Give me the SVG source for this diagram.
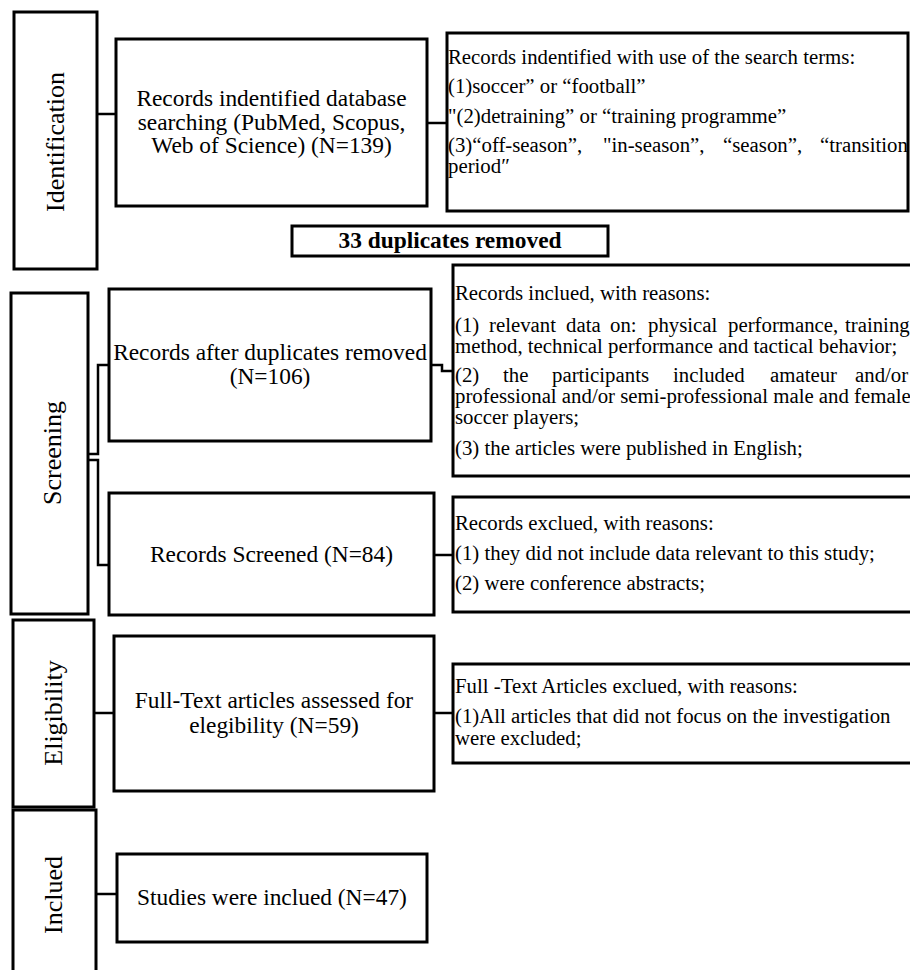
<svg xmlns="http://www.w3.org/2000/svg" width="910" height="970" viewBox="0 0 910 970">
<style>
.box{fill:#fff;stroke:#000;stroke-width:3}
.conn{fill:none;stroke:#000;stroke-width:2.5}
text{font-family:"Liberation Serif","Times New Roman",serif;fill:#000}
.m{font-size:23.4px;text-anchor:middle}
.r{font-size:20.8px}
.s{font-size:26px;text-anchor:middle}
.b{font-size:23.4px;font-weight:bold;text-anchor:middle}
</style>
<rect width="910" height="970" fill="#fff"/>
<g id="connectors">
<path class="conn" d="M97,114 H116"/>
<path class="conn" d="M427,123 H447"/>
<path class="conn" d="M88,454 H98 V365 H109"/>
<path class="conn" d="M88,460 H98 V565 H109"/>
<path class="conn" d="M431,365 H442 V371 H453"/>
<path class="conn" d="M434,555 H453"/>
<path class="conn" d="M94,713 H114"/>
<path class="conn" d="M434,713 H453"/>
<path class="conn" d="M96,894 H117"/>
</g>
<g id="identification">
<rect class="box" x="14" y="12" width="83" height="257"/>
<text class="s" transform="translate(64,142) rotate(-90)">Identification</text>
</g>
<g id="records-identified">
<rect class="box" x="116" y="39" width="311" height="167"/>
<text class="m"><tspan x="271.5" y="106">Records indentified database</tspan><tspan x="271.5" y="129.5">searching (PubMed, Scopus,</tspan><tspan x="271.5" y="153">Web of Science) (N=139)</tspan></text>
</g>
<g id="search-terms">
<rect class="box" x="447" y="33" width="461" height="178"/>
<text class="r" x="448" y="64">Records indentified with use of the search terms:</text>
<text class="r" x="448" y="93">(1)soccer” or “football”</text>
<text class="r" x="448" y="123">"(2)detraining” or “training programme”</text>
<text class="r"><tspan x="448" y="152">(3)“off-season”,</tspan><tspan x="603" y="152">"in-season”,</tspan><tspan x="723" y="152">“season”,</tspan><tspan x="820" y="152">“transition</tspan><tspan x="448" y="173">period″</tspan></text>
</g>
<g id="duplicates">
<rect class="box" x="292" y="226" width="316" height="30"/>
<text class="b" x="450" y="248">33 duplicates removed</text>
</g>
<g id="screening">
<rect class="box" x="11" y="293" width="77" height="321"/>
<text class="s" transform="translate(61,453) rotate(-90)">Screening</text>
</g>
<g id="records-after-duplicates">
<rect class="box" x="109" y="289" width="322" height="152"/>
<text class="m"><tspan x="270" y="359.5">Records after duplicates removed</tspan><tspan x="270" y="383.5">(N=106)</tspan></text>
</g>
<g id="records-included-reasons">
<rect class="box" x="453" y="265" width="462" height="211"/>
<text class="r" x="455" y="300">Records inclued, with reasons:</text>
<text class="r"><tspan x="455" y="331.5">(1)</tspan><tspan x="489" y="331.5">relevant</tspan><tspan x="566" y="331.5">data</tspan><tspan x="610" y="331.5">on:</tspan><tspan x="648" y="331.5">physical</tspan><tspan x="728" y="331.5">performance,</tspan><tspan x="845" y="331.5">training</tspan><tspan x="455" y="352.5">method, technical performance and tactical behavior;</tspan></text>
<text class="r"><tspan x="455" y="382">(2)</tspan><tspan x="503" y="382">the</tspan><tspan x="552" y="382">participants</tspan><tspan x="673" y="382">included</tspan><tspan x="770" y="382">amateur</tspan><tspan x="855" y="382">and/or</tspan><tspan x="455" y="403">professional and/or semi-professional male and female</tspan><tspan x="455" y="424">soccer players;</tspan></text>
<text class="r" x="455" y="455">(3) the articles were published in English;</text>
</g>
<g id="records-screened">
<rect class="box" x="109" y="493" width="325" height="122"/>
<text class="m" x="271.5" y="562">Records Screened (N=84)</text>
</g>
<g id="records-excluded-reasons">
<rect class="box" x="453" y="497" width="462" height="115"/>
<text class="r" x="455" y="530">Records exclued, with reasons:</text>
<text class="r" x="455" y="560">(1) they did not include data relevant to this study;</text>
<text class="r" x="455" y="590">(2) were conference abstracts;</text>
</g>
<g id="eligibility">
<rect class="box" x="13" y="620" width="81" height="187"/>
<text class="s" transform="translate(62,713) rotate(-90)">Eligibility</text>
</g>
<g id="full-text-assessed">
<rect class="box" x="114" y="636" width="320" height="155"/>
<text class="m"><tspan x="274" y="708">Full-Text articles assessed for</tspan><tspan x="274" y="733">elegibility (N=59)</tspan></text>
</g>
<g id="full-text-excluded">
<rect class="box" x="453" y="664" width="462" height="99"/>
<text class="r" x="455" y="693">Full -Text Articles exclued, with reasons:</text>
<text class="r"><tspan x="455" y="723">(1)All articles that did not focus on the investigation</tspan><tspan x="455" y="745">were excluded;</tspan></text>
</g>
<g id="inclued">
<rect class="box" x="13" y="810" width="83" height="170"/>
<text class="s" transform="translate(62,895) rotate(-90)">Inclued</text>
</g>
<g id="studies-included">
<rect class="box" x="117" y="854" width="310" height="88"/>
<text class="m" x="272" y="905">Studies were inclued (N=47)</text>
</g>
</svg>
